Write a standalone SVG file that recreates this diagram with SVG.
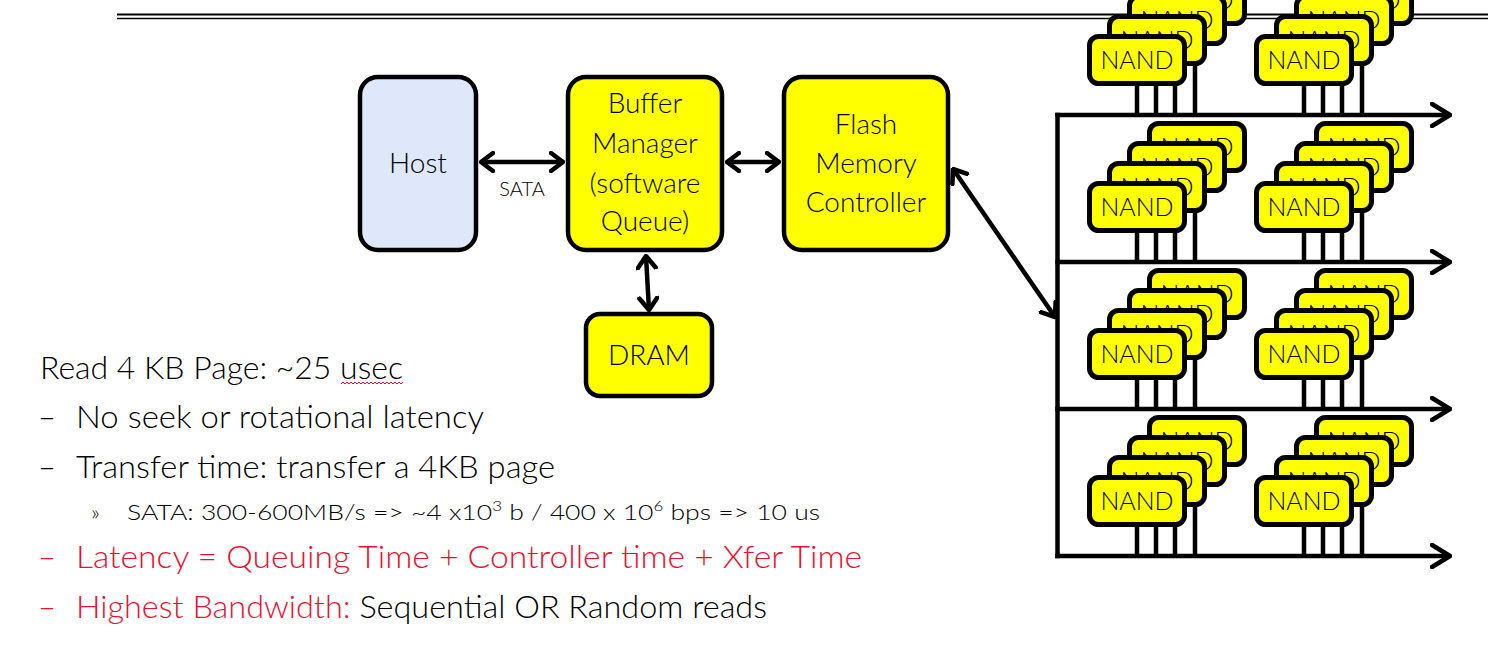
<svg xmlns="http://www.w3.org/2000/svg" width="1488" height="655" viewBox="0 0 1488 655">
<defs>
<style>
text{font-family:"Lato","Open Sans","Liberation Sans",sans-serif;font-weight:300;fill:#000}
.node{stroke:#000;stroke-width:4.5}
.yel{fill:#ffff00}
.blue{fill:#dfe7fa}
.lbl{font-size:28px;text-anchor:middle}
.conn{stroke:#000;stroke-width:4.5;fill:none}
.bus{stroke:#000;stroke-width:4.5;fill:none}
.nb{fill:#ffff00;stroke:#000;stroke-width:5}
.nt{font-size:25px;text-anchor:middle}
.pin{stroke:#000;stroke-width:4.5;fill:none}
.body{font-size:31px}
.sub{font-size:22px}
.red{fill:#e8102f}
.rule{stroke:#000;fill:none}
</style>
<marker id="ah" viewBox="0 0 16 22" refX="14" refY="11" markerWidth="16" markerHeight="22" markerUnits="userSpaceOnUse" orient="auto-start-reverse">
<path d="M2 2L14 11L2 20" fill="none" stroke="#000" stroke-width="4.5" stroke-linecap="round" stroke-linejoin="round"/>
</marker>
<marker id="bh" viewBox="0 0 22 26" refX="20" refY="13" markerWidth="22" markerHeight="26" markerUnits="userSpaceOnUse" orient="auto">
<path d="M2 2L20 13L2 24" fill="none" stroke="#000" stroke-width="4.5" stroke-linecap="round" stroke-linejoin="round"/>
</marker>
</defs>
<rect width="1488" height="655" fill="#fff"/>
<g id="title-rule">
<line class="rule" x1="117" y1="14.5" x2="1488" y2="14.5" stroke-width="2"/>
<line class="rule" x1="117" y1="18.5" x2="1488" y2="18.5" stroke-width="1.5"/>
</g>
<g id="connectors">
<line class="conn" x1="481" y1="162" x2="563" y2="162" marker-start="url(#ah)" marker-end="url(#ah)"/>
<line class="conn" x1="727" y1="162" x2="779" y2="162" marker-start="url(#ah)" marker-end="url(#ah)"/>
<line class="conn" x1="646" y1="256" x2="649" y2="310" marker-start="url(#ah)" marker-end="url(#ah)"/>
<line class="conn" x1="953" y1="169" x2="1055" y2="317" marker-start="url(#ah)" marker-end="url(#ah)"/>
<text x="522" y="196" font-size="20" text-anchor="middle">SATA</text>
</g>
<g id="bus">
<line class="bus" x1="1057.5" y1="112.8" x2="1057.5" y2="558.2"/>
<line class="bus" x1="1055.3" y1="115" x2="1450" y2="115" marker-end="url(#bh)"/>
<line class="bus" x1="1055.3" y1="262" x2="1450" y2="262" marker-end="url(#bh)"/>
<line class="bus" x1="1055.3" y1="409" x2="1450" y2="409" marker-end="url(#bh)"/>
<line class="bus" x1="1055.3" y1="556" x2="1450" y2="556" marker-end="url(#bh)"/>
</g>
<g id="host">
<rect class="node blue" x="360" y="77" width="116" height="173" rx="18"/>
<text class="lbl" x="418" y="173">Host</text>
</g>
<g id="buffer-manager">
<rect class="node yel" x="568" y="77" width="154" height="173" rx="18"/>
<text class="lbl" x="645" y="113">Buffer</text>
<text class="lbl" x="645" y="153">Manager</text>
<text class="lbl" x="645" y="193">(software</text>
<text class="lbl" x="645" y="231">Queue)</text>
</g>
<g id="flash-controller">
<rect class="node yel" x="784" y="77" width="164" height="173" rx="18"/>
<text class="lbl" x="866" y="134">Flash</text>
<text class="lbl" x="866" y="173">Memory</text>
<text class="lbl" x="866" y="212">Controller</text>
</g>
<g id="dram">
<rect class="node yel" x="586" y="314" width="126" height="82" rx="14"/>
<text class="lbl" x="649" y="365">DRAM</text>
</g>
<g id="nand-r1-left" transform="translate(1089.5 36.5)">
<path class="pin" d="M47.5 47V78.5M66.5 47V78.5M85.5 47V78.5M105.5 27V78.5"/>
<rect class="nb" x="60" y="-60" width="95" height="47" rx="9"/><text class="nt" x="107.5" y="-28">NAND</text>
<rect class="nb" x="40" y="-40" width="95" height="47" rx="9"/><text class="nt" x="87.5" y="-8">NAND</text>
<rect class="nb" x="20" y="-20" width="95" height="47" rx="9"/><text class="nt" x="67.5" y="12">NAND</text>
<rect class="nb" x="0" y="0" width="95" height="47" rx="9"/><text class="nt" x="47.5" y="32">NAND</text>
</g>
<g id="nand-r1-right" transform="translate(1256.5 36.5)">
<path class="pin" d="M47.5 47V78.5M66.5 47V78.5M85.5 47V78.5M105.5 27V78.5"/>
<rect class="nb" x="60" y="-60" width="95" height="47" rx="9"/><text class="nt" x="107.5" y="-28">NAND</text>
<rect class="nb" x="40" y="-40" width="95" height="47" rx="9"/><text class="nt" x="87.5" y="-8">NAND</text>
<rect class="nb" x="20" y="-20" width="95" height="47" rx="9"/><text class="nt" x="67.5" y="12">NAND</text>
<rect class="nb" x="0" y="0" width="95" height="47" rx="9"/><text class="nt" x="47.5" y="32">NAND</text>
</g>
<g id="nand-r2-left" transform="translate(1089.5 183.5)">
<path class="pin" d="M47.5 47V78.5M66.5 47V78.5M85.5 47V78.5M105.5 27V78.5"/>
<rect class="nb" x="60" y="-60" width="95" height="47" rx="9"/><text class="nt" x="107.5" y="-28">NAND</text>
<rect class="nb" x="40" y="-40" width="95" height="47" rx="9"/><text class="nt" x="87.5" y="-8">NAND</text>
<rect class="nb" x="20" y="-20" width="95" height="47" rx="9"/><text class="nt" x="67.5" y="12">NAND</text>
<rect class="nb" x="0" y="0" width="95" height="47" rx="9"/><text class="nt" x="47.5" y="32">NAND</text>
</g>
<g id="nand-r2-right" transform="translate(1256.5 183.5)">
<path class="pin" d="M47.5 47V78.5M66.5 47V78.5M85.5 47V78.5M105.5 27V78.5"/>
<rect class="nb" x="60" y="-60" width="95" height="47" rx="9"/><text class="nt" x="107.5" y="-28">NAND</text>
<rect class="nb" x="40" y="-40" width="95" height="47" rx="9"/><text class="nt" x="87.5" y="-8">NAND</text>
<rect class="nb" x="20" y="-20" width="95" height="47" rx="9"/><text class="nt" x="67.5" y="12">NAND</text>
<rect class="nb" x="0" y="0" width="95" height="47" rx="9"/><text class="nt" x="47.5" y="32">NAND</text>
</g>
<g id="nand-r3-left" transform="translate(1089.5 330.5)">
<path class="pin" d="M47.5 47V78.5M66.5 47V78.5M85.5 47V78.5M105.5 27V78.5"/>
<rect class="nb" x="60" y="-60" width="95" height="47" rx="9"/><text class="nt" x="107.5" y="-28">NAND</text>
<rect class="nb" x="40" y="-40" width="95" height="47" rx="9"/><text class="nt" x="87.5" y="-8">NAND</text>
<rect class="nb" x="20" y="-20" width="95" height="47" rx="9"/><text class="nt" x="67.5" y="12">NAND</text>
<rect class="nb" x="0" y="0" width="95" height="47" rx="9"/><text class="nt" x="47.5" y="32">NAND</text>
</g>
<g id="nand-r3-right" transform="translate(1256.5 330.5)">
<path class="pin" d="M47.5 47V78.5M66.5 47V78.5M85.5 47V78.5M105.5 27V78.5"/>
<rect class="nb" x="60" y="-60" width="95" height="47" rx="9"/><text class="nt" x="107.5" y="-28">NAND</text>
<rect class="nb" x="40" y="-40" width="95" height="47" rx="9"/><text class="nt" x="87.5" y="-8">NAND</text>
<rect class="nb" x="20" y="-20" width="95" height="47" rx="9"/><text class="nt" x="67.5" y="12">NAND</text>
<rect class="nb" x="0" y="0" width="95" height="47" rx="9"/><text class="nt" x="47.5" y="32">NAND</text>
</g>
<g id="nand-r4-left" transform="translate(1089.5 477.5)">
<path class="pin" d="M47.5 47V78.5M66.5 47V78.5M85.5 47V78.5M105.5 27V78.5"/>
<rect class="nb" x="60" y="-60" width="95" height="47" rx="9"/><text class="nt" x="107.5" y="-28">NAND</text>
<rect class="nb" x="40" y="-40" width="95" height="47" rx="9"/><text class="nt" x="87.5" y="-8">NAND</text>
<rect class="nb" x="20" y="-20" width="95" height="47" rx="9"/><text class="nt" x="67.5" y="12">NAND</text>
<rect class="nb" x="0" y="0" width="95" height="47" rx="9"/><text class="nt" x="47.5" y="32">NAND</text>
</g>
<g id="nand-r4-right" transform="translate(1256.5 477.5)">
<path class="pin" d="M47.5 47V78.5M66.5 47V78.5M85.5 47V78.5M105.5 27V78.5"/>
<rect class="nb" x="60" y="-60" width="95" height="47" rx="9"/><text class="nt" x="107.5" y="-28">NAND</text>
<rect class="nb" x="40" y="-40" width="95" height="47" rx="9"/><text class="nt" x="87.5" y="-8">NAND</text>
<rect class="nb" x="20" y="-20" width="95" height="47" rx="9"/><text class="nt" x="67.5" y="12">NAND</text>
<rect class="nb" x="0" y="0" width="95" height="47" rx="9"/><text class="nt" x="47.5" y="32">NAND</text>
</g>
<g id="notes">
<text class="body" x="40" y="379" textLength="363" lengthAdjust="spacingAndGlyphs">Read 4 KB Page: ~25 usec</text>
<path d="M341 384l2 -2l2 2l2 -2l2 2l2 -2l2 2l2 -2l2 2l2 -2l2 2l2 -2l2 2l2 -2l2 2l2 -2l2 2l2 -2l2 2l2 -2l2 2l2 -2l2 2l2 -2l2 2l2 -2l2 2l2 -2l2 2l2 -2l2 2l2 -2" fill="none" stroke="#e8102f" stroke-width="1"/>
<text class="body" x="38" y="428">–</text>
<text class="body" x="76" y="428" textLength="408" lengthAdjust="spacingAndGlyphs">No seek or rotational latency</text>
<text class="body" x="38" y="478">–</text>
<text class="body" x="76" y="478" textLength="479" lengthAdjust="spacingAndGlyphs">Transfer time: transfer a 4KB page</text>
<text class="sub" x="91" y="520">»</text>
<text class="sub" x="127" y="520" textLength="693" lengthAdjust="spacingAndGlyphs">SATA: 300-600MB/s =&gt; ~4 x10<tspan font-size="14" dy="-9">3</tspan><tspan dy="9"> b / 400 x 10</tspan><tspan font-size="14" dy="-9">6</tspan><tspan dy="9"> bps =&gt; 10 us</tspan></text>
<text class="body red" x="38" y="568">–</text>
<text class="body red" x="76" y="568" textLength="786" lengthAdjust="spacingAndGlyphs">Latency = Queuing Time + Controller time + Xfer Time</text>
<text class="body red" x="38" y="618">–</text>
<text class="body" x="76" y="618" textLength="691" lengthAdjust="spacingAndGlyphs"><tspan class="red">Highest Bandwidth:</tspan> Sequential OR Random reads</text>
</g>
</svg>
